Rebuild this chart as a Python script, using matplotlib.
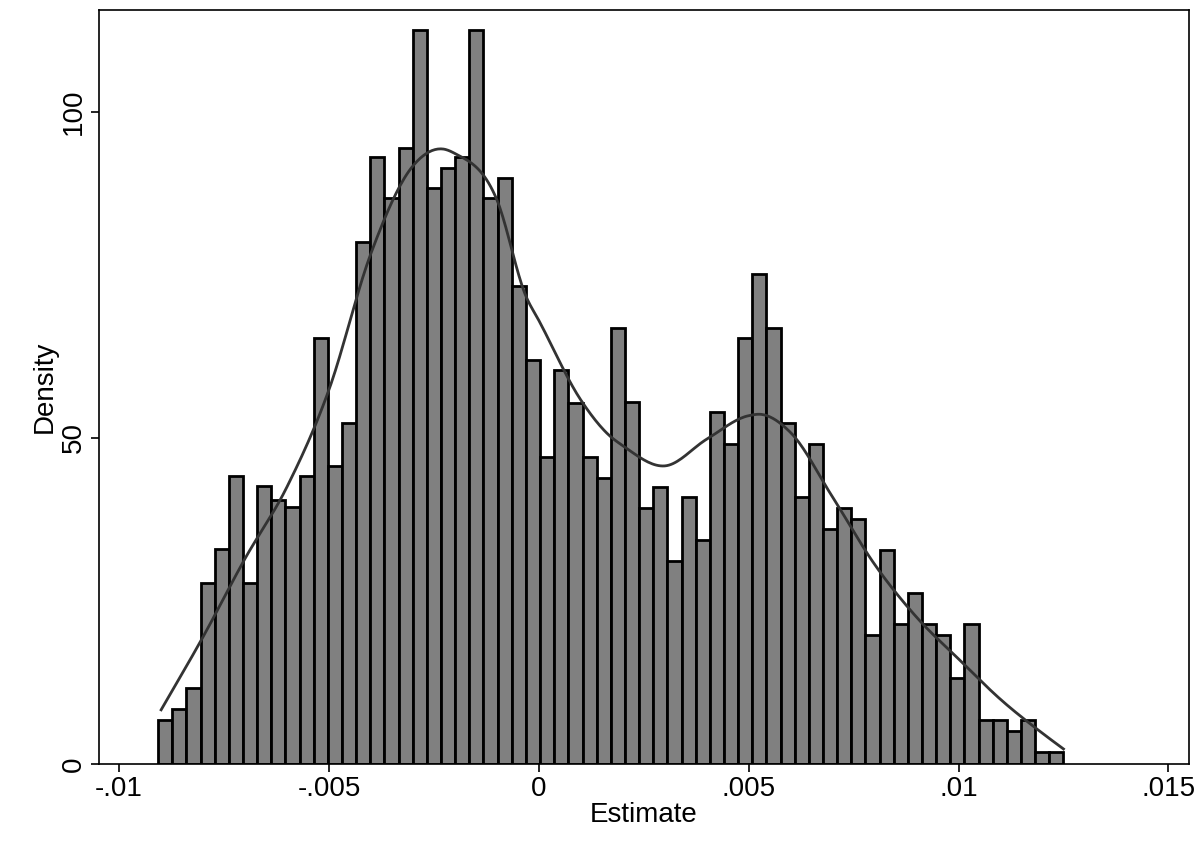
import matplotlib.pyplot as plt
import numpy as np

plt.rcParams['font.family'] = ['Liberation Sans', 'DejaVu Sans']

bin_start = -0.00907
bin_width = 0.000337
heights = [6.7, 8.4, 11.7, 27.8, 33.0, 44.2, 27.8, 42.6, 40.5, 39.4,
           44.2, 65.3, 45.7, 52.3, 80.0, 93.0, 86.7, 94.5, 112.6, 88.3,
           91.4, 93.0, 112.6, 86.8, 89.9, 73.3, 62.0, 47.1, 60.4, 55.4,
           47.1, 43.8, 66.9, 55.5, 39.3, 42.5, 31.1, 40.9, 34.4, 54.0,
           49.1, 65.3, 75.1, 66.9, 52.3, 40.9, 49.1, 36.0, 39.3, 37.6,
           19.8, 32.8, 21.4, 26.2, 21.4, 19.8, 13.2, 21.4, 6.7, 6.7,
           5.1, 6.7, 1.8, 1.8]

kde_x = [-0.009, -0.008, -0.007, -0.006, -0.005, -0.004, -0.003, -0.0023, -0.002,
         -0.001, -0.0003, 0.0, 0.001, 0.00169, 0.002, 0.003, 0.004, 0.005, 0.0053,
         0.006, 0.007, 0.008, 0.009, 0.010, 0.011, 0.012, 0.0125]
kde_y = [8.3, 19.5, 31.5, 42.5, 57.4, 78.3, 91.7, 94.3, 93.6,
         86.5, 71.6, 68.0, 55.8, 50.3, 48.8, 45.7, 49.8, 53.4, 53.6,
         50.8, 40.9, 30.6, 22.5, 16.1, 9.9, 4.7, 2.3]


def smooth(xs, ys, n=20):
    # cubic Hermite through the read points, just to draw a smooth line
    xs, ys = np.asarray(xs), np.asarray(ys)
    m = np.gradient(ys, xs)
    out_x, out_y = [], []
    for i in range(len(xs) - 1):
        h = xs[i + 1] - xs[i]
        t = np.linspace(0, 1, n, endpoint=False)
        h00 = 2 * t**3 - 3 * t**2 + 1
        h10 = t**3 - 2 * t**2 + t
        h01 = -2 * t**3 + 3 * t**2
        h11 = t**3 - t**2
        out_x.extend(xs[i] + t * h)
        out_y.extend(h00 * ys[i] + h10 * h * m[i] + h01 * ys[i + 1] + h11 * h * m[i + 1])
    out_x.append(xs[-1])
    out_y.append(ys[-1])
    return out_x, out_y


fig = plt.figure(figsize=(12.03, 8.41), dpi=100)
ax = fig.add_axes([0.0823, 0.0916, 0.9057, 0.8965])
lefts = bin_start + bin_width * np.arange(len(heights))
ax.bar(lefts, heights, width=bin_width, align='edge', color='#808080',
       edgecolor='black', linewidth=2)
sx, sy = smooth(kde_x, kde_y)
ax.plot(sx, sy, color='#333333', linewidth=2)

ax.set_xlim(-0.01048, 0.01548)
ax.set_ylim(0, 115.6)
ax.set_xticks([-0.01, -0.005, 0, 0.005, 0.01, 0.015])
ax.set_xticklabels(['-.01', '-.005', '0', '.005', '.01', '.015'], fontsize=20)
ax.set_yticks([0, 50, 100])
ax.set_yticklabels(['0', '50', '100'], fontsize=20, rotation=90, va='center')
ax.set_xlabel('Estimate', fontsize=20, labelpad=0)
ax.set_ylabel('Density', fontsize=20, labelpad=2)
ax.tick_params(length=6, width=1.2, pad=3)
for s in ax.spines.values():
    s.set_linewidth(1.2)

fig.savefig('out.png', dpi=100)
